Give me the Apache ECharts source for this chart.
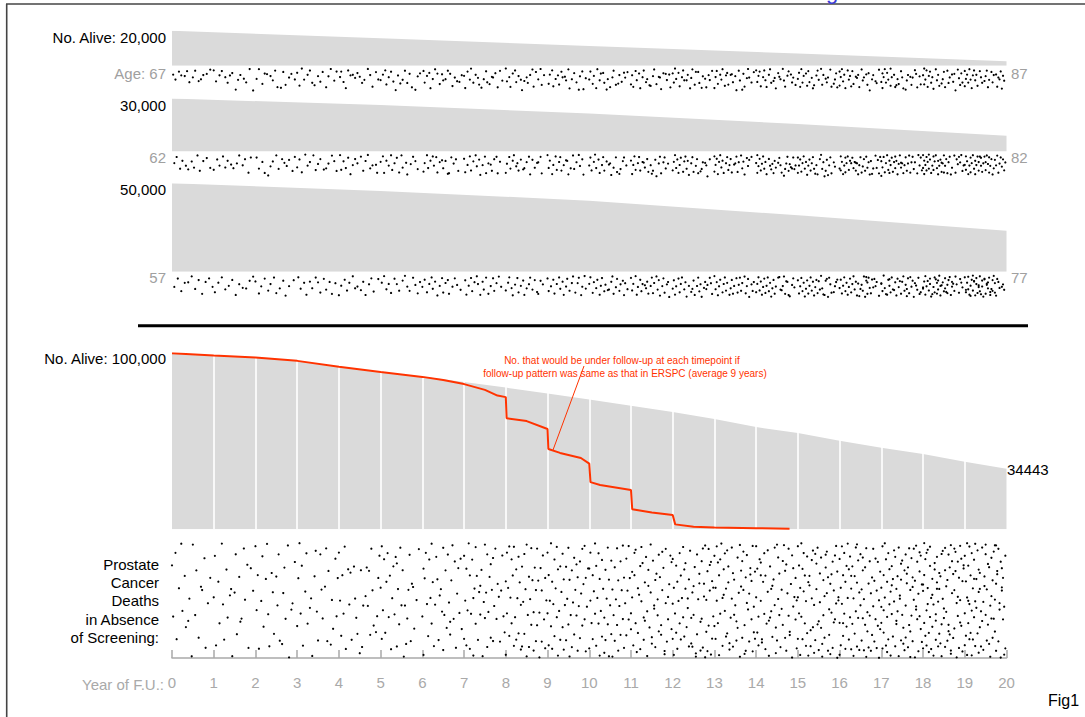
<!DOCTYPE html>
<html><head><meta charset="utf-8">
<script src="https://cdn.jsdelivr.net/npm/echarts@6/dist/echarts.min.js"></script>
<style>html,body{margin:0;padding:0;background:#fff}#c{width:1085px;height:717px}</style>
</head><body><div id="c"></div>
<script>
// ---------- data ----------
const yearTicks = ['0','1','2','3','4','5','6','7','8','9','10','11','12','13','14','15','16','17','18','19','20'];
const cohortYears = [0, 5, 10, 15, 20];
const alive67 = [20000, 15650, 11300, 6950, 2600];
const alive62 = [30000, 26300, 21500, 15600, 8900];
const alive57 = [50000, 45700, 40200, 31900, 23100];
const cohortStartLabels = ['No. Alive: 20,000', '30,000', '50,000'];
const cohortStartAges = ['Age: 67', '62', '57'];
const cohortEndAges = ['87', '82', '77'];

const fuYears = [0,1,2,3,4,5,6,7,8,9,10,11,12,13,14,15,16,17,18,19,20];
const aliveAll = [100000, 98700, 97600, 95700, 92300, 89400, 86800, 83700, 80500, 77200, 73700, 70200, 66600, 62700, 58100, 54700, 50300, 46400, 42800, 38400, 34443];

const ersYears = [0, 1, 2, 3, 4, 5, 6, 6.5, 7, 7.5, 7.8, 8, 8.02, 8.5, 9, 9.02, 9.3, 9.8, 10, 10.03, 10.26, 11, 11.03, 11.5, 12, 12.06, 12.5, 13, 14, 14.8];
const ersAlive = [100000, 98700, 97600, 95700, 92300, 89400, 86600, 84800, 82500, 79200, 76000, 75100, 63100, 61500, 57000, 45600, 43400, 40500, 37300, 26800, 25200, 22300, 11400, 9600, 8100, 2800, 1500, 1050, 600, 330];

const annotationLines = ['No. that would be under follow-up at each timepoint if', 'follow-up pattern was same as that in ERSPC (average 9 years)'];
const deathLabelLines = ['Prostate', 'Cancer', 'Deaths', 'in Absence', 'of Screening:'];

// Dot positions per follow-up year.
// Each dot = 2 chars: position within the year, then height code within the strip.
const deaths67 = [
"1h 3n 6e 8i bj dd fq ik kc n5 pm rh ug xb",
"0c 2p 5i 7d ak cr ei gf j9 ln nh q4 sq va yz",
"1m 3b 6s 8g a2 dj fo hc jw m8 oe qt tk vg ym",
"0f 2u 4a 6n 9h bc dr f7 ij kp me pw rj ta wo yd",
"1k 2e 4q 6x 8c ai ch el gf i3 kr mn pa rh tv we ym",
"0o 2h 4c 5t 7k 9e bp dz fi h6 jn lc nr pg rw u9 wj yf",
"1d 2r 4j 6f 7x 9m bb dg fs h2 io km mc og qu sk u5 wp yh",
"0j 1x 3e 5n 6a 8r ah cl dt f8 hm jd kq ms o3 pk rf tw vc xo",
"0a 1p 3k 4w 6g 8c 9q bj dn ez g5 ik jr lh nb ov qe sm ua vt xh",
"1s 2h 4c 5v 7m 9i at ce dk f3 go ib jx lm nf pq r9 sj ud vy xl",
"0n 1e 3s 4j 6x 7b 9o ag cf dr f9 gm iw kk lc nt p6 qh sp u1 vk xe",
"0t 1i 2w 4d 5o 7g 8x ak bc dq em g7 hu jj kb ms o3 pk qy sf ug vn x2 yw",
"0g 1r 2a 3m 5f 6v 8k 9c ao co dh fx gl hb jt ke me nr p8 qj s4 tw vh wn yc",
"0x 1k 2d 3s 5h 6n 7b 9u ai bf ct eh f2 gq ij jz lc mo o9 pg qv sl ta uk wq ye",
"0c 1q 2j 3e 4v 6k 7c 8o 9w bh cb dr f5 gl hx jf k3 lm na oo pv ri sd u2 vq wk yt",
"0m 1f 2w 3b 4r 5j 7g 8u 9d aq cl dx e7 gi hc in ka lt mh o4 pq qk sb tv v6 wm xf yw",
"0e 0u 1k 2b 3p 4h 5x 7c 8n 9j av bd cs e3 fl gh hw jb ko lk n2 ot pf qz sm th v5 wr yb",
"0q 1g 1x 2k 3b 4r 5f 6n 8a 8u 9k bh cw d7 em fs hd ik jx l9 mo nh p3 qt rk t0 ug vw xj ys",
"0i 1a 1t 2n 3c 4w 5j 6e 7r 8k 9y bb co dh eu g6 hm ie jw lc mr nk p2 qp rg sz ub vl wt xf yq",
"0d 0v 1m 2h 3r 4b 5n 6x 7i 8c 9o ah bu dd ek fr h5 ij jc kw ln ne oq ph r2 sv tk um vd wx xi yo"
];
const deaths62 = [
"2k 4d 7r 9h cn e6 hi jp mb ot rh ue xp",
"0s 3g 5n 8c ap ch f4 hq kk mb pm rf uv wd",
"1e 3r 6j 8w b9 do fi ib kr nf p3 rn tg wt yc",
"0p 2g 4v 7a 9n bj eb gs il kf n6 pq rk ub wh yt",
"1b 2s 4i 6q 8e ax cm ef gk jc lt nh pa rq tm w4 xv",
"0j 2c 3w 5h 7n 9b as ck ee gv ib jp m3 nx ql sc uh wr",
"1u 2k 4b 5q 7h 9c an cd dv fj h2 iq kh m8 nw pd rk tf vt",
"0f 1v 3m 5c 6t 8i ab bo dg ey gm ic jw lk n4 ot qf sc tw vi",
"0w 1l 3d 4r 6h 7b 9o ak bt dg f6 gq ij kc lx ng pp r3 sj uc vw",
"0b 1q 2h 4x 5m 7c 8s aj bd ct em g2 hh ix kq mb nr pj ra sn uf vx",
"0n 1e 2t 4j 5a 6q 8g 9w bm cd dt fi h4 ik jy lp nd ou q8 rr th ud wm",
"0h 1x 2m 3c 4s 6k 7d 8t aj b3 cp ef fu hm i8 jt lg mz ok pc qw sj td uq wk",
"0t 1j 2b 3q 4g 5w 6m 7e 9u ai bc cr dh ey gk hd iu kn lf mw o7 pr qj s3 tm uz wf",
"0c 0u 1m 2f 3x 4j 5b 6p 7h 8w ak bd cs dm ef fv h4 ik jc ku lj nb oq pi qx se tn ug wc",
"0k 1b 1w 2o 3f 4t 5l 6c 7r 8j 9x bf cn d6 el fw gh hp j3 ke lm mv o9 pr qk rc st tl u5 vq wd xr ym",
"0e 0w 1n 2g 3u 4k 5c 6r 7j 8y 9n ag bt ck dd er f8 gm hx jf ka lr mj nz ot pg qy rm sd tw vj wo",
"0r 1c 1t 2j 3x 4n 5e 5v 6k 7c 8s 9h ak be cq dj e3 et fk gx hm id jv ko lf mt nc op pj qx rh s8 tq vb wp xg yw zc",
"0i 0z 1p 2d 3v 4k 5b 6s 7h 7w 8m 9e au bj cc cq dh ex fl gb h3 hp ik jw km ld mt nk ob pv qj rc sr tj vw wa xm yd zs",
"0b 0q 1h 1x 2m 3d 3t 4j 5a 5r 6g 7w 8n 9c 9s ai bb cq dh dx en fg g3 gu hk ib iv jn kf lw mj nc ox pp rb sv tf ul vc wj xa yt zm",
"0m 1c 1s 2i 3x 4n 5e 5v 6k 7b 8r 9h 9x am bc ct cj dc en ee fu gk hc ij is jb kl ld lv mn nf ox pq qg rm sb tv uk vd wo xf ys zj"
];
const deaths57 = [
"2o 5e 8t bj ei hb kq nf qw th wd zn",
"1u 4j 7c ar dm gf jx mk p5 sp vg yb",
"0h 3w 5n 8e bs dk gc iv lp og qy tm xf",
"1c 3q 6j 8x bh dp gc ii ku ne pr sh uw xj",
"0y 2m 5f 7s 9j cb ep gn j6 lh nx qk sd ut ye",
"1j 3b 5r 7k 9v ce ek gs jg la nn ps sc ul wv yh",
"0o 2f 4u 6k 8c 9q bh dy fm hd iu kj mf nw qn sd ul xr",
"1g 2x 4m 6d 7t 9i bb ck ex gh hr jc lw nm pd qs sj ub wn",
"0s 2j 3c 5p 6y 8l ad bu dm fg gx ip kk lc nr pf r7 sw ug wk",
"0e 1t 3n 5f 6w 8k ac bq dh ex gn he js lj mb ou qj rc tx un wa xp",
"0k 1c 3v 4i 6p 7f 9x am bd dt el g6 hr jh kb lw no oe qs rk tg ux vj xq",
"0d 1s 2k 4b 5x 6o 8f 9t ak c4 dp eh fw hm ic jv kj mb nr of py rm sd tu vk wh xz",
"0q 1g 2x 3n 5e 6u 7k 8c ar bi cz em g7 hq ig jx lm mc nt ok pz r5 sh tq ul wc xj yw",
"0b 1r 2i 3y 4n 5f 7u 8k 9c as bj dx ep ff gw hm jd ku ll mc ns oj qb rv sm te uz wk xs yh",
"0u 1k 2c 3s 4h 5x 6o 7e 8v 9m ac bt cj dz ep ff gw hn jc k0 lr m6 nm ob pw q2 rh sx t9 vl wd xo",
"0g 1w 2n 3d 4t 5j 6z 7q 8g 9w am bc cs dh ey fo gf hv i2 jr ka lp m8 nx og pe qz rc sk tu v7 wm xh y1",
"0p 1f 2w 3m 4c 5t 6j 7x 8o 9e au bk cb dr eh fy g3 h9 iq jl ks lb mz n0 ng oi ow pc q5 rv s1 to ue vm wh yy",
"0k 03 1t 2a 3p 48 5x 6f 7m 71 8u 9c ar b6 ci dy ee fo g2 hw ih jb ks ll m9 mq nd ov p0 qn rg sz tj u4 vr wc xw y7",
"05 0q 1h 2x 2b 3n 42 5s 6k 6e 7z 88 9o au ac b1 cj cw dg dr ea fm fy g4 hi it jd jp k7 ll lv mf n0 ox pn ph q3 rs sb tk vu we xi yo",
"0c 16 1u 2j 30 3r 4x 59 5m 6f 7a 7s 82 8h 9y ak ad bv c4 co db dt e8 fn fg gz he h1 iw jl j3 kp ki lc mx m7 nq os of pa qu qj ry se th u5 wn xk yr"
];
const cancerDeaths = [
"0f 1r 3c 4w 6k 8a 9p bh ct e6 fm hz ia kq lg nv p3 qk sd tx vn xh",
"0m 1d 2x 4j 5s 7a 8o 9w bg cr e4 fk gz il jc ku mh n6 or qb rm t1 ux wf yk",
"0b 1p 2h 3y 5n 6d 7t 9i aa bq cx e2 fl gu ih jo kc lw n8 ol pf qr sa tz v5 wn ye",
"0t 1i 2a 3q 4f 5x 7l 8c 9s b5 cm dz fh g0 hp iw kc lk mr o3 pb qw rg t8 um vt xd yq zh",
"0c 1n 2v 3h 4q 5b 6y 8g 9o a2 bw df em fr gu i9 jg kx lo n4 of po qg ru sb tk us w7 xq yh zc",
"0k 1b 1w 2p 3e 4u 5j 6c 7r 8h 9y am bf cq dd e1 ex fk gs hb io jg kz lo m8 nr ok pc qw rj s3 tt vm xb",
"0r 1g 1z 2i 3c 4o 5v 6e 7m 8a 8s 9j ax bo cd di ew f4 gk hp ib iy jq kg lt mc nn o6 ou pi qa rr se tx ul vf wp xd yt",
"0d 0w 1n 2g 2x 3p 4a 5h 5y 6q 7e 8m 8z 9k ab as bh cw dl e3 eq fg gz hn ia ir jl kc kx lp mh n1 nv ok pd pw qo rb sr tj u4 vw wk xc yq z7",
"0j 0z 1c 1q 2k 3b 3v 4m 5e 5s 6h 7x 7b 8r 9g 9w am bd bu cj dy do ef ex fn gc gu hk ia iz jq kh kx lm mb ms ni oy op pf qw qk rb rs si tz tp uf vw vk wc xr yh yx zm",
"0q 0c 1x 1h 2n 3a 3t 4j 4y 5o 6e 6v 7k 8b 8r 9g 9z ap bf bw cl dc dt ei ey fo gf gw hm ib is ji jz kq lg lx mn nd nu ok p1 pq qh qy ro se sv tl ub us vj wa wr xh xy yo zf",
"0g 0y 1n 1c 2s 3h 3w 4l 5a 5q 6f 6x 7m 8c 8s 9i 9z ap be bv ck d9 dr eg ew fm gb gs hi hz io je ju kk kz lq mf mw nm ob os pi py qo re ru sk ta tr uh ux vn wd wu xk ya yr zh",
"07 0q 12 1m 2x 3c 3h 40 4s 59 6k 6u 74 8f 8y 9b 9n a1 br bw c6 cj dd ep ez f3 fg gt ha hl i8 iv je ko k5 li lx m2 nm nq oc o7 ph qu qs r0 rk sf t9 ty un ub vw wr w4 xj yc ze zt",
"0o 0e 0w 1k 1z 2q 3f 3u 4j 4y 5n 6c 6s 7h 7w 8m 9b 9r ag av bk b1 ct d5 dm ex ei f0 gr g8 hl hx i3 iq jf kz k9 lc lu mm n2 nj oy o6 pr pe qb qx rj r4 sz sa t7 tm uy ug vb vs w1 wk xe x9 yv yi zq z3",
"0t 0d 1k 1w 2b 2n 3s 31 4h 4z 5e 5q 6a 7m 7x 8g 84 9p 9c av ak b0 bu cf cj dy d8 er fb fm g2 gx hi hq io jw j6 kd kt ll mz ma n3 ng ov oe pk p0 qs q9 rh ry sc sn t5 uw ul vf v2 wr wi xa xy y7 yo zg zv",
"0m 0b 1u 1g 2r 2x 3e 41 4n 5w 58 6j 7q 7c 8y 8h 9s a0 al bz b6 cf dp dk ev e3 fi go gb ht h9 iw jd jm k2 kq lx m5 mk ne ns oa pv pg q1 qy rl sb sq t7 tu uj vc vz wf wo x4 yr yh zm zx 4h cr ia",
"0m 0b 0w 1q 1f 2z 2k 3a 3r 4g 4w 5l 5c 6s 6h 7x 7n 8d 8u 9j 9z a3 ah bx b7 cm ce d0 dt eo e9 fw fc gk g1 hs hb iy i6 jn j2 kt kd lz l8 mi mq n4 nv of oc pl p0 qy qh r5 ru sj s9 t2 tp ue ux vk v6 wc wr xa xn yg yz z4 zm",
"0e 0s 0z 1k 1x 2b 2o 3h 3v 4c 4q 5j 5y 6f 6t 7a 7m 8g 8w 9d 9r ak ay bf bs cm cz dh du eb ep fj fx ge gr hl hy ic io jw jk kd kr ly lm mf ms nb nz op o7 pj px qe qq rl ry sh su tb to ui uw vd vr wk wx xe xs ym yz zg zt 3s ah fa kg",
"0s 05 0k 1y 1b 2p 2h 2u 3a 3m 4x 4e 5r 59 5j 6w 6c 7o 7g 8z 8l 93 9q 9f ai av b0 bn cd cx dk d6 ds eh ep fz fb g4 gm hw hi h1 iq ie jt j8 ky kg lc lo lv m2 mj nx nf ob os p7 pk pz qd qq r3 rh rw sb sm ti tz ua uo u5 vr ve wy wl x0 xq xg yc yt zj zw",
"0l 0y 03 1s 1a 1h 2v 2e 3p 3c 3x 4k 40 5u 59 6r 6f 6b 7m 7y 8t 84 8i 9z 9o ag a1 bw bq b6 cj cd dx dn e2 ek eu fh f8 gs gc gz hm h0 ir i5 jb jx jg kp k3 lw li m7 ms mc nu nf oa oy o9 pl pe qv q2 rk rb rt sg s0 tz tn u4 ue uq vh vx w6 wm wa xs xd yi yy zf z1 4o ck",
"0d 0q 0x 1j 1v 2a 2m 2z 3f 3s 4b 4o 4w 5h 5u 6c 6p 6z 7k 7w 8e 8r 9a 9n 9x a5 ai bu b0 cl cg c9 dt d2 ep ex fb f6 gn gy hh h3 iq ic jw jk k1 ks lf l8 mz mo nd n4 ov oi p0 pr qa qm q7 rj ry s2 sg tw tb u5 un vz ve wk w3 xr xh yo y9 zc zx 3n 8i dk ia nr ra wf"
];

// ---------- build ----------
const XCODE = '0123456789abcdefghijklmnopqrstuvwxyz';
const YCODE = 'ab0cde1fg2hij3kl4mno5pqr6st7uvw8xy9z';
function decodeDots(strs) {
  const out = [];
  strs.forEach((s, yr) => {
    const t = s.replace(/\s+/g, '');
    for (let i = 0; i + 1 < t.length; i += 2) {
      const xc = XCODE.indexOf(t[i]);
      const yc = YCODE.indexOf(t[i + 1]);
      out.push([yr + xc / 36, 1 - (yc + xc / 36) / 36]);
    }
  });
  return out;
}
const zip = (a, b) => a.map((v, i) => [v, b[i]]);

const FONT = 'Arial, "Liberation Sans", sans-serif';
const LEFT = 172, WIDTH = 834.5;
const gridBoxes = [
  [30.7, 35], [68.5, 22], [98.5, 53], [154.5, 22], [183.3, 88.4], [275.5, 21.5], [353.3, 176], [543, 115]
];
const yMax = [20000, 1, 30000, 1, 50000, 1, 100000, 1];
const GREY = '#dadada';
const AXIS_GREY = '#a9a9a9';

const grid = gridBoxes.map(b => ({ left: LEFT, width: WIDTH, top: b[0], height: b[1], outerBoundsMode: 'none', containLabel: false }));
const xAxis = gridBoxes.map((b, i) => {
  const last = i === gridBoxes.length - 1;
  return {
    type: 'value', gridIndex: i, min: 0, max: 20, interval: 1, show: last,
    position: 'bottom', offset: 13,
    axisLine: { show: last, lineStyle: { color: AXIS_GREY, width: 1.5 } },
    axisTick: { show: last, inside: true, length: 8, lineStyle: { color: AXIS_GREY, width: 1.5 } },
    axisLabel: { show: last, color: AXIS_GREY, fontSize: 15, fontFamily: FONT, margin: 4,
      formatter: v => '{t|' + yearTicks[Math.round(v)] + '}',
      rich: { t: { color: AXIS_GREY, fontSize: 15, fontFamily: FONT } } },
    splitLine: { show: false }
  };
});
const yAxis = gridBoxes.map((b, i) => ({ type: 'value', gridIndex: i, min: 0, max: yMax[i], show: false, splitLine: { show: false } }));

function areaSeries(idx, xs, ys, extra) {
  return Object.assign({
    type: 'line', xAxisIndex: idx, yAxisIndex: idx, data: zip(xs, ys),
    symbol: 'none', silent: true, lineStyle: { width: 0, opacity: 0 },
    areaStyle: { color: GREY, opacity: 1 }, z: 2
  }, extra || {});
}
function dotSeries(idx, strs) {
  return { type: 'scatter', xAxisIndex: idx, yAxisIndex: idx, data: decodeDots(strs),
    symbol: 'circle', symbolSize: 2.2, itemStyle: { color: '#000', opacity: 1 }, silent: true, z: 3 };
}

const innerYears = fuYears.slice(1, -1);
const series = [
  areaSeries(0, cohortYears, alive67),
  dotSeries(1, deaths67),
  areaSeries(2, cohortYears, alive62),
  dotSeries(3, deaths62),
  areaSeries(4, cohortYears, alive57),
  dotSeries(5, deaths57),
  areaSeries(6, fuYears, aliveAll, {
    markLine: { silent: true, symbol: ['none', 'none'], label: { show: false }, animation: false,
      lineStyle: { color: '#ffffff', width: 1.6, type: 'solid', opacity: 1 },
      emphasis: { disabled: true },
      data: innerYears.map(v => ({ xAxis: v })) }
  }),
  { type: 'line', xAxisIndex: 6, yAxisIndex: 6, data: zip(ersYears, ersAlive), symbol: 'none', silent: true,
    lineStyle: { color: '#ff3300', width: 2 }, z: 10 },
  dotSeries(7, cancerDeaths)
];

function txt(text, x, y, opt) {
  return { type: 'text', z: 100, silent: true, style: Object.assign({
    text: text, x: x, y: y, fill: '#000', fontSize: 15, fontFamily: FONT, align: 'right', verticalAlign: 'middle'
  }, opt || {}) };
}
const startY = [37, 105, 189];
const ageY = [73, 157, 277.7];
const graphic = [
  { type: 'line', z: 100, silent: true, shape: { x1: 6.7, y1: 4, x2: 6.7, y2: 717 }, style: { stroke: '#444', lineWidth: 1.6 } },
  { type: 'line', z: 100, silent: true, shape: { x1: 6, y1: 4, x2: 1085, y2: 4 }, style: { stroke: '#444', lineWidth: 1.6 } },
  txt('g', 826, -8.5, { fill: '#3b3bd8', fontSize: 22, align: 'left' }),
  { type: 'line', z: 100, silent: true, shape: { x1: 138, y1: 325.7, x2: 1028, y2: 325.7 }, style: { stroke: '#000', lineWidth: 3 } },
  txt('No. Alive: 100,000', 166, 358),
  txt(String(aliveAll[aliveAll.length - 1]), 1007, 469, { align: 'left' }),
  txt(annotationLines[0], 622, 360.7, { fill: '#ff3300', fontSize: 10, align: 'center' }),
  txt(annotationLines[1], 625, 373.3, { fill: '#ff3300', fontSize: 10, align: 'center' }),
  { type: 'line', z: 101, silent: true, shape: { x1: 584, y1: 366, x2: 553, y2: 450 }, style: { stroke: '#ff3300', lineWidth: 1 } },
  txt('Year of F.U.:', 164, 684, { fill: AXIS_GREY }),
  txt('Fig1', 1048, 700, { align: 'left', fontSize: 16 })
];
cohortStartLabels.forEach((t, i) => graphic.push(txt(t, 166, startY[i])));
cohortStartAges.forEach((t, i) => graphic.push(txt(t, 166, ageY[i], { fill: '#a0a0a0' })));
cohortEndAges.forEach((t, i) => graphic.push(txt(t, 1011, ageY[i], { fill: '#a0a0a0', align: 'left' })));
deathLabelLines.forEach((t, i) => graphic.push(txt(t, 159, 564 + i * 18.35)));

const chart = echarts.init(document.getElementById('c'), null, { renderer: 'svg' });
chart.setOption({
  animation: false,
  backgroundColor: '#ffffff',
  grid: grid, xAxis: xAxis, yAxis: yAxis, series: series, graphic: graphic
});
</script>
</body></html>
